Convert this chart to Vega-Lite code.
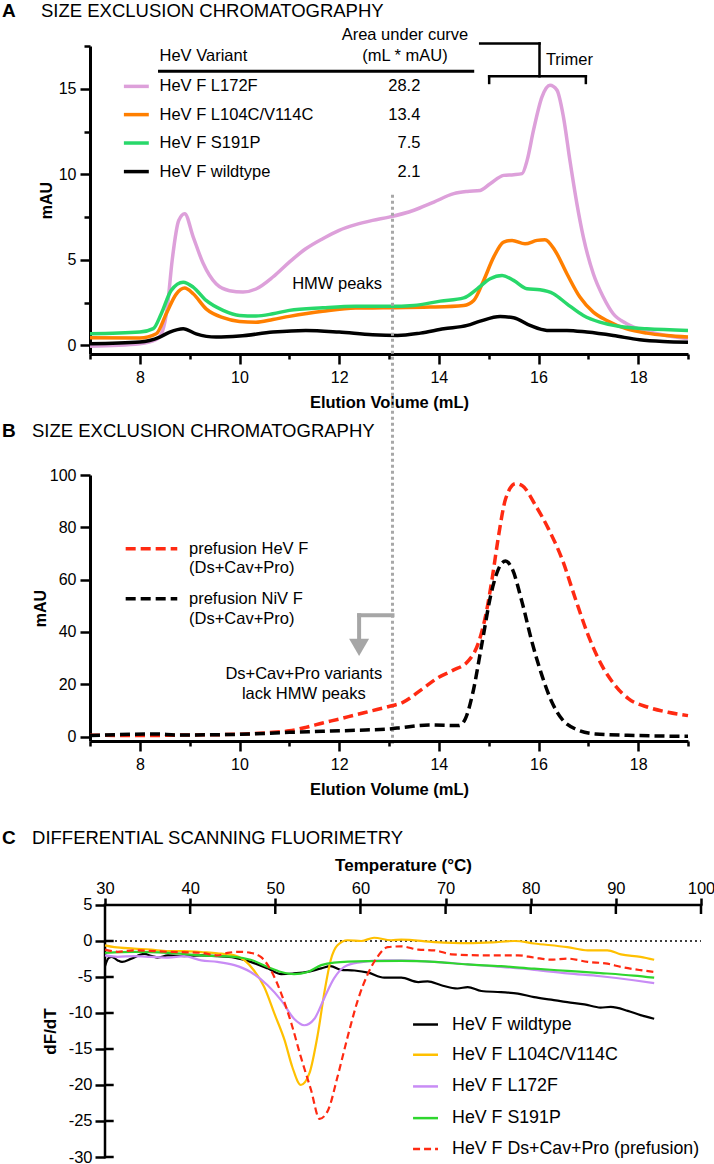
{
"$schema":"https://vega.github.io/schema/vega-lite/v6.json",
"background":"white",
"padding":{"left":1,"top":2,"right":0,"bottom":0},
"bounds":"flush",
"spacing":121,
"resolve":{"scale":{"x":"independent","y":"independent","color":"independent"}},
"config":{
 "view":{"stroke":null},
 "font":"Liberation Sans",
 "axis":{"grid":false,"domainColor":"#000","domainWidth":3,"tickColor":"#000","tickWidth":2.5,"labelColor":"#000","titleColor":"#000","labelFont":"Liberation Sans","titleFont":"Liberation Sans","labelFontSize":16,"titleFontSize":16.5,"titleFontWeight":"bold","labelOverlap":false,"labelFlush":false,"labelBound":false},
 "text":{"font":"Liberation Sans","color":"#000"}
},
"datasets":{
 "aCurves":[
  {"s":"L172F","ml":7,"v":-0.05},{"s":"L172F","ml":8,"v":0.1},{"s":"L172F","ml":8.33,"v":0.35},{"s":"L172F","ml":8.45,"v":0.8},{"s":"L172F","ml":8.55,"v":2.2},{"s":"L172F","ml":8.65,"v":5.0},{"s":"L172F","ml":8.78,"v":7.3},{"s":"L172F","ml":8.9,"v":7.7},{"s":"L172F","ml":9.07,"v":6.35},{"s":"L172F","ml":9.27,"v":4.8},{"s":"L172F","ml":9.53,"v":3.6},{"s":"L172F","ml":9.8,"v":3.2},{"s":"L172F","ml":10.07,"v":3.12},{"s":"L172F","ml":10.33,"v":3.3},{"s":"L172F","ml":10.67,"v":4.0},{"s":"L172F","ml":11,"v":4.87},{"s":"L172F","ml":11.33,"v":5.65},{"s":"L172F","ml":11.67,"v":6.24},{"s":"L172F","ml":12,"v":6.73},{"s":"L172F","ml":12.33,"v":7.06},{"s":"L172F","ml":12.67,"v":7.31},{"s":"L172F","ml":13,"v":7.5},{"s":"L172F","ml":13.5,"v":7.9},{"s":"L172F","ml":13.9,"v":8.38},{"s":"L172F","ml":14.3,"v":8.87},{"s":"L172F","ml":14.57,"v":9.0},{"s":"L172F","ml":14.83,"v":9.06},{"s":"L172F","ml":15.03,"v":9.45},{"s":"L172F","ml":15.3,"v":9.94},{"s":"L172F","ml":15.5,"v":9.98},{"s":"L172F","ml":15.67,"v":10.04},{"s":"L172F","ml":15.77,"v":10.8},{"s":"L172F","ml":15.9,"v":12.58},{"s":"L172F","ml":16.07,"v":14.52},{"s":"L172F","ml":16.23,"v":15.2},{"s":"L172F","ml":16.37,"v":14.92},{"s":"L172F","ml":16.5,"v":13.36},{"s":"L172F","ml":16.63,"v":10.82},{"s":"L172F","ml":16.77,"v":8.29},{"s":"L172F","ml":16.9,"v":6.33},{"s":"L172F","ml":17.1,"v":4.19},{"s":"L172F","ml":17.3,"v":2.83},{"s":"L172F","ml":17.5,"v":1.85},{"s":"L172F","ml":17.77,"v":1.27},{"s":"L172F","ml":18.17,"v":0.84},{"s":"L172F","ml":18.57,"v":0.58},{"s":"L172F","ml":19,"v":0.39},
  {"s":"L104C/V114C","ml":7,"v":0.45},{"s":"L104C/V114C","ml":8,"v":0.43},{"s":"L104C/V114C","ml":8.33,"v":0.68},{"s":"L104C/V114C","ml":8.53,"v":1.85},{"s":"L104C/V114C","ml":8.73,"v":3.0},{"s":"L104C/V114C","ml":8.9,"v":3.35},{"s":"L104C/V114C","ml":9.07,"v":3.02},{"s":"L104C/V114C","ml":9.33,"v":2.14},{"s":"L104C/V114C","ml":9.67,"v":1.62},{"s":"L104C/V114C","ml":10,"v":1.4},{"s":"L104C/V114C","ml":10.33,"v":1.36},{"s":"L104C/V114C","ml":10.67,"v":1.52},{"s":"L104C/V114C","ml":11,"v":1.7},{"s":"L104C/V114C","ml":11.67,"v":2.0},{"s":"L104C/V114C","ml":12.33,"v":2.19},{"s":"L104C/V114C","ml":13,"v":2.2},{"s":"L104C/V114C","ml":13.83,"v":2.24},{"s":"L104C/V114C","ml":14.5,"v":2.34},{"s":"L104C/V114C","ml":14.7,"v":2.63},{"s":"L104C/V114C","ml":14.9,"v":3.8},{"s":"L104C/V114C","ml":15.1,"v":5.16},{"s":"L104C/V114C","ml":15.3,"v":6.04},{"s":"L104C/V114C","ml":15.47,"v":6.14},{"s":"L104C/V114C","ml":15.73,"v":5.94},{"s":"L104C/V114C","ml":15.97,"v":6.14},{"s":"L104C/V114C","ml":16.13,"v":6.18},{"s":"L104C/V114C","ml":16.33,"v":5.55},{"s":"L104C/V114C","ml":16.57,"v":4.19},{"s":"L104C/V114C","ml":16.83,"v":2.83},{"s":"L104C/V114C","ml":17.1,"v":1.95},{"s":"L104C/V114C","ml":17.37,"v":1.46},{"s":"L104C/V114C","ml":17.77,"v":0.97},{"s":"L104C/V114C","ml":18.17,"v":0.72},{"s":"L104C/V114C","ml":18.57,"v":0.58},{"s":"L104C/V114C","ml":19,"v":0.49},
  {"s":"S191P","ml":7,"v":0.68},{"s":"S191P","ml":8,"v":0.78},{"s":"S191P","ml":8.27,"v":0.98},{"s":"S191P","ml":8.43,"v":1.85},{"s":"S191P","ml":8.63,"v":3.22},{"s":"S191P","ml":8.87,"v":3.7},{"s":"S191P","ml":9.07,"v":3.41},{"s":"S191P","ml":9.33,"v":2.63},{"s":"S191P","ml":9.67,"v":2.05},{"s":"S191P","ml":10,"v":1.75},{"s":"S191P","ml":10.33,"v":1.72},{"s":"S191P","ml":10.67,"v":1.85},{"s":"S191P","ml":11,"v":2.05},{"s":"S191P","ml":11.67,"v":2.2},{"s":"S191P","ml":12.33,"v":2.29},{"s":"S191P","ml":13,"v":2.29},{"s":"S191P","ml":13.5,"v":2.34},{"s":"S191P","ml":14.03,"v":2.59},{"s":"S191P","ml":14.5,"v":2.78},{"s":"S191P","ml":14.77,"v":3.31},{"s":"S191P","ml":15.03,"v":3.9},{"s":"S191P","ml":15.27,"v":4.09},{"s":"S191P","ml":15.5,"v":3.8},{"s":"S191P","ml":15.77,"v":3.31},{"s":"S191P","ml":16.03,"v":3.25},{"s":"S191P","ml":16.3,"v":3.02},{"s":"S191P","ml":16.57,"v":2.43},{"s":"S191P","ml":16.9,"v":1.75},{"s":"S191P","ml":17.23,"v":1.36},{"s":"S191P","ml":17.63,"v":1.11},{"s":"S191P","ml":18.17,"v":0.97},{"s":"S191P","ml":19,"v":0.88},
  {"s":"wildtype","ml":7,"v":0.1},{"s":"wildtype","ml":8,"v":0.2},{"s":"wildtype","ml":8.4,"v":0.49},{"s":"wildtype","ml":8.6,"v":0.78},{"s":"wildtype","ml":8.87,"v":0.98},{"s":"wildtype","ml":9.13,"v":0.68},{"s":"wildtype","ml":9.53,"v":0.49},{"s":"wildtype","ml":10,"v":0.55},{"s":"wildtype","ml":10.67,"v":0.78},{"s":"wildtype","ml":11.33,"v":0.88},{"s":"wildtype","ml":12,"v":0.78},{"s":"wildtype","ml":12.67,"v":0.62},{"s":"wildtype","ml":13.17,"v":0.58},{"s":"wildtype","ml":13.63,"v":0.72},{"s":"wildtype","ml":14.1,"v":0.97},{"s":"wildtype","ml":14.57,"v":1.17},{"s":"wildtype","ml":14.83,"v":1.42},{"s":"wildtype","ml":15.23,"v":1.69},{"s":"wildtype","ml":15.5,"v":1.62},{"s":"wildtype","ml":15.83,"v":1.17},{"s":"wildtype","ml":16.17,"v":0.88},{"s":"wildtype","ml":16.57,"v":0.88},{"s":"wildtype","ml":16.97,"v":0.78},{"s":"wildtype","ml":17.5,"v":0.58},{"s":"wildtype","ml":18.03,"v":0.33},{"s":"wildtype","ml":18.5,"v":0.23},{"s":"wildtype","ml":19,"v":0.19}
 ],
 "bCurves":[
  {"s":"HeV","ml":7,"v":0.5},{"s":"HeV","ml":8,"v":0.4},{"s":"HeV","ml":9,"v":0.6},{"s":"HeV","ml":10,"v":0.9},{"s":"HeV","ml":10.67,"v":1.6},{"s":"HeV","ml":11,"v":2.2},{"s":"HeV","ml":11.33,"v":3.5},{"s":"HeV","ml":11.67,"v":5.2},{"s":"HeV","ml":12,"v":6.7},{"s":"HeV","ml":12.33,"v":8.3},{"s":"HeV","ml":12.67,"v":9.9},{"s":"HeV","ml":13,"v":11.5},{"s":"HeV","ml":13.27,"v":13.0},{"s":"HeV","ml":13.67,"v":18.2},{"s":"HeV","ml":14,"v":22.7},{"s":"HeV","ml":14.27,"v":25.2},{"s":"HeV","ml":14.6,"v":29.1},{"s":"HeV","ml":14.8,"v":36.1},{"s":"HeV","ml":14.94,"v":46.3},{"s":"HeV","ml":15.07,"v":60.4},{"s":"HeV","ml":15.2,"v":76.9},{"s":"HeV","ml":15.34,"v":90.9},{"s":"HeV","ml":15.54,"v":96.7},{"s":"HeV","ml":15.67,"v":96.0},{"s":"HeV","ml":15.94,"v":88.4},{"s":"HeV","ml":16.2,"v":79.4},{"s":"HeV","ml":16.47,"v":68.0},{"s":"HeV","ml":16.74,"v":52.7},{"s":"HeV","ml":17,"v":38.6},{"s":"HeV","ml":17.27,"v":27.2},{"s":"HeV","ml":17.54,"v":19.5},{"s":"HeV","ml":17.81,"v":14.4},{"s":"HeV","ml":18.2,"v":11.2},{"s":"HeV","ml":18.6,"v":9.3},{"s":"HeV","ml":19,"v":8.0},
  {"s":"NiV","ml":7,"v":0.4},{"s":"NiV","ml":8.33,"v":1.0},{"s":"NiV","ml":8.73,"v":0.6},{"s":"NiV","ml":10,"v":0.85},{"s":"NiV","ml":11,"v":1.6},{"s":"NiV","ml":11.67,"v":2.0},{"s":"NiV","ml":12.33,"v":2.4},{"s":"NiV","ml":13,"v":2.9},{"s":"NiV","ml":13.27,"v":3.5},{"s":"NiV","ml":13.8,"v":4.4},{"s":"NiV","ml":14.4,"v":4.2},{"s":"NiV","ml":14.53,"v":6.7},{"s":"NiV","ml":14.67,"v":15.7},{"s":"NiV","ml":14.87,"v":36.1},{"s":"NiV","ml":15.04,"v":53.9},{"s":"NiV","ml":15.2,"v":64.2},{"s":"NiV","ml":15.34,"v":67.1},{"s":"NiV","ml":15.47,"v":64.2},{"s":"NiV","ml":15.67,"v":51.4},{"s":"NiV","ml":15.87,"v":36.1},{"s":"NiV","ml":16.07,"v":23.3},{"s":"NiV","ml":16.27,"v":13.1},{"s":"NiV","ml":16.47,"v":6.7},{"s":"NiV","ml":16.74,"v":2.9},{"s":"NiV","ml":17.14,"v":1.0},{"s":"NiV","ml":17.94,"v":0.4},{"s":"NiV","ml":19,"v":0.1}
 ],
 "cCurves":[
  {"s":"wildtype","T":30,"v":-3.5},{"s":"wildtype","T":30.4,"v":-2.4},{"s":"wildtype","T":30.8,"v":-2.2},{"s":"wildtype","T":31.5,"v":-2.7},{"s":"wildtype","T":32,"v":-2.9},{"s":"wildtype","T":33.1,"v":-2.45},{"s":"wildtype","T":34.6,"v":-1.8},{"s":"wildtype","T":35.5,"v":-2.1},{"s":"wildtype","T":36.2,"v":-2.3},{"s":"wildtype","T":37.4,"v":-2.0},{"s":"wildtype","T":39.3,"v":-2.1},{"s":"wildtype","T":41.3,"v":-2.0},{"s":"wildtype","T":43.2,"v":-2.1},{"s":"wildtype","T":45.2,"v":-2.3},{"s":"wildtype","T":47.1,"v":-2.9},{"s":"wildtype","T":49.1,"v":-3.8},{"s":"wildtype","T":50.7,"v":-4.6},{"s":"wildtype","T":52.2,"v":-4.5},{"s":"wildtype","T":53.8,"v":-4.3},{"s":"wildtype","T":55.4,"v":-3.8},{"s":"wildtype","T":56.5,"v":-3.5},{"s":"wildtype","T":57.7,"v":-4.0},{"s":"wildtype","T":59.3,"v":-4.1},{"s":"wildtype","T":60.9,"v":-4.4},{"s":"wildtype","T":62.8,"v":-5.1},{"s":"wildtype","T":64.8,"v":-5.1},{"s":"wildtype","T":66.8,"v":-5.7},{"s":"wildtype","T":67.9,"v":-5.6},{"s":"wildtype","T":69.5,"v":-6.15},{"s":"wildtype","T":71.4,"v":-6.6},{"s":"wildtype","T":72.6,"v":-6.4},{"s":"wildtype","T":74.2,"v":-6.95},{"s":"wildtype","T":76.5,"v":-7.1},{"s":"wildtype","T":78.5,"v":-7.3},{"s":"wildtype","T":80.4,"v":-7.8},{"s":"wildtype","T":82.4,"v":-8.15},{"s":"wildtype","T":84.3,"v":-8.5},{"s":"wildtype","T":86.3,"v":-8.8},{"s":"wildtype","T":88.2,"v":-9.25},{"s":"wildtype","T":89.4,"v":-9.15},{"s":"wildtype","T":91.4,"v":-9.7},{"s":"wildtype","T":92.9,"v":-10.3},{"s":"wildtype","T":94.5,"v":-10.8},
  {"s":"L104C/V114C","T":30,"v":-0.6},{"s":"L104C/V114C","T":31.1,"v":-0.85},{"s":"L104C/V114C","T":33.4,"v":-1.05},{"s":"L104C/V114C","T":35.4,"v":-1.2},{"s":"L104C/V114C","T":37.4,"v":-1.4},{"s":"L104C/V114C","T":39.3,"v":-1.4},{"s":"L104C/V114C","T":41.3,"v":-1.55},{"s":"L104C/V114C","T":43.2,"v":-1.7},{"s":"L104C/V114C","T":45.2,"v":-2.0},{"s":"L104C/V114C","T":46.4,"v":-2.7},{"s":"L104C/V114C","T":47.5,"v":-4.1},{"s":"L104C/V114C","T":48.7,"v":-6.4},{"s":"L104C/V114C","T":49.9,"v":-10.1},{"s":"L104C/V114C","T":51.1,"v":-13.8},{"s":"L104C/V114C","T":52,"v":-17.5},{"s":"L104C/V114C","T":53,"v":-20.0},{"s":"L104C/V114C","T":54,"v":-18.4},{"s":"L104C/V114C","T":55,"v":-12.9},{"s":"L104C/V114C","T":55.8,"v":-6.9},{"s":"L104C/V114C","T":56.5,"v":-2.7},{"s":"L104C/V114C","T":57.3,"v":-0.6},{"s":"L104C/V114C","T":58.5,"v":0.1},{"s":"L104C/V114C","T":60.1,"v":0.0},{"s":"L104C/V114C","T":61.6,"v":0.45},{"s":"L104C/V114C","T":63.6,"v":0.1},{"s":"L104C/V114C","T":64.8,"v":0.2},{"s":"L104C/V114C","T":68.7,"v":-0.15},{"s":"L104C/V114C","T":72.6,"v":-0.3},{"s":"L104C/V114C","T":75.5,"v":-0.2},{"s":"L104C/V114C","T":78.1,"v":0.0},{"s":"L104C/V114C","T":80.4,"v":-0.35},{"s":"L104C/V114C","T":84.3,"v":-0.85},{"s":"L104C/V114C","T":86.7,"v":-1.3},{"s":"L104C/V114C","T":89,"v":-1.3},{"s":"L104C/V114C","T":90.6,"v":-1.85},{"s":"L104C/V114C","T":92.9,"v":-2.2},{"s":"L104C/V114C","T":94.5,"v":-2.6},
  {"s":"L172F","T":30,"v":-2.0},{"s":"L172F","T":31.5,"v":-2.2},{"s":"L172F","T":33.4,"v":-2.1},{"s":"L172F","T":35.4,"v":-2.2},{"s":"L172F","T":37.4,"v":-2.3},{"s":"L172F","T":39.3,"v":-2.1},{"s":"L172F","T":41.3,"v":-2.7},{"s":"L172F","T":43.2,"v":-2.9},{"s":"L172F","T":45.2,"v":-3.35},{"s":"L172F","T":47.1,"v":-4.3},{"s":"L172F","T":49.1,"v":-6.15},{"s":"L172F","T":50.7,"v":-8.25},{"s":"L172F","T":52.2,"v":-10.8},{"s":"L172F","T":53.4,"v":-11.7},{"s":"L172F","T":54.6,"v":-10.8},{"s":"L172F","T":55.8,"v":-7.8},{"s":"L172F","T":56.9,"v":-5.2},{"s":"L172F","T":58.1,"v":-3.6},{"s":"L172F","T":59.7,"v":-3.0},{"s":"L172F","T":62.8,"v":-2.7},{"s":"L172F","T":64.8,"v":-2.7},{"s":"L172F","T":68.7,"v":-2.9},{"s":"L172F","T":72.6,"v":-3.25},{"s":"L172F","T":76.5,"v":-3.6},{"s":"L172F","T":80.4,"v":-4.0},{"s":"L172F","T":84.3,"v":-4.5},{"s":"L172F","T":88.2,"v":-4.9},{"s":"L172F","T":92.1,"v":-5.45},{"s":"L172F","T":94.5,"v":-5.85},
  {"s":"S191P","T":30,"v":-1.65},{"s":"S191P","T":33.4,"v":-1.5},{"s":"S191P","T":37.4,"v":-1.65},{"s":"S191P","T":41.3,"v":-2.0},{"s":"S191P","T":45.2,"v":-2.2},{"s":"S191P","T":47.1,"v":-2.6},{"s":"S191P","T":49.1,"v":-3.6},{"s":"S191P","T":50.7,"v":-4.3},{"s":"S191P","T":52.2,"v":-4.6},{"s":"S191P","T":53.8,"v":-4.3},{"s":"S191P","T":55.4,"v":-3.35},{"s":"S191P","T":56.9,"v":-3.0},{"s":"S191P","T":60.9,"v":-2.8},{"s":"S191P","T":64.8,"v":-2.75},{"s":"S191P","T":68.7,"v":-2.9},{"s":"S191P","T":72.6,"v":-3.25},{"s":"S191P","T":76.5,"v":-3.5},{"s":"S191P","T":80.4,"v":-3.85},{"s":"S191P","T":84.3,"v":-4.15},{"s":"S191P","T":88.2,"v":-4.45},{"s":"S191P","T":92.1,"v":-4.8},{"s":"S191P","T":94.5,"v":-5.1},
  {"s":"Ds+Cav+Pro","T":30,"v":-1.2},{"s":"Ds+Cav+Pro","T":31.5,"v":-1.5},{"s":"Ds+Cav+Pro","T":33.4,"v":-1.3},{"s":"Ds+Cav+Pro","T":37.4,"v":-1.5},{"s":"Ds+Cav+Pro","T":41.3,"v":-1.65},{"s":"Ds+Cav+Pro","T":43.2,"v":-2.0},{"s":"Ds+Cav+Pro","T":44.4,"v":-1.65},{"s":"Ds+Cav+Pro","T":45.9,"v":-1.5},{"s":"Ds+Cav+Pro","T":47.1,"v":-1.65},{"s":"Ds+Cav+Pro","T":48.3,"v":-2.2},{"s":"Ds+Cav+Pro","T":49.5,"v":-4.1},{"s":"Ds+Cav+Pro","T":50.7,"v":-7.3},{"s":"Ds+Cav+Pro","T":51.9,"v":-11.5},{"s":"Ds+Cav+Pro","T":53,"v":-16.1},{"s":"Ds+Cav+Pro","T":54.2,"v":-20.7},{"s":"Ds+Cav+Pro","T":55.2,"v":-24.7},{"s":"Ds+Cav+Pro","T":56.2,"v":-23.5},{"s":"Ds+Cav+Pro","T":57.3,"v":-18.9},{"s":"Ds+Cav+Pro","T":58.5,"v":-13.3},{"s":"Ds+Cav+Pro","T":59.7,"v":-8.2},{"s":"Ds+Cav+Pro","T":60.9,"v":-4.5},{"s":"Ds+Cav+Pro","T":62,"v":-2.2},{"s":"Ds+Cav+Pro","T":63.2,"v":-0.85},{"s":"Ds+Cav+Pro","T":64.8,"v":-0.75},{"s":"Ds+Cav+Pro","T":66.8,"v":-1.2},{"s":"Ds+Cav+Pro","T":68.7,"v":-1.3},{"s":"Ds+Cav+Pro","T":70.7,"v":-1.85},{"s":"Ds+Cav+Pro","T":74.6,"v":-2.0},{"s":"Ds+Cav+Pro","T":78.5,"v":-2.0},{"s":"Ds+Cav+Pro","T":80.4,"v":-2.3},{"s":"Ds+Cav+Pro","T":82.4,"v":-2.6},{"s":"Ds+Cav+Pro","T":84.3,"v":-2.45},{"s":"Ds+Cav+Pro","T":86.7,"v":-2.9},{"s":"Ds+Cav+Pro","T":89,"v":-3.15},{"s":"Ds+Cav+Pro","T":90.6,"v":-3.6},{"s":"Ds+Cav+Pro","T":92.9,"v":-4.05},{"s":"Ds+Cav+Pro","T":94.5,"v":-4.3}
 ]
},
"vconcat":[
 {
  "width":598,"height":308,
  "layer":[
   {"data":{"name":"aCurves"},"mark":{"type":"line","strokeWidth":3.5,"interpolate":"monotone"},
    "encoding":{
     "x":{"field":"ml","type":"quantitative","scale":{"domain":[7,19],"nice":false,"zero":false},
      "axis":{"values":[7,8,9,10,11,12,13,14,15,16,17,18,19],"labelExpr":"datum.value % 2 === 0 ? datum.label : ''","tickSize":{"condition":{"test":"datum.value % 2 === 0","value":10},"value":5},"labelPadding":5,"title":"Elution Volume (mL)","titlePadding":9}},
     "y":{"field":"v","type":"quantitative","scale":{"domain":[-0.5,17.5],"nice":false,"zero":false},
      "axis":{"values":[0,2.5,5,7.5,10,12.5,15,17.5],"labelExpr":"datum.value % 5 === 0 ? datum.label : ''","tickSize":{"condition":{"test":"datum.value % 5 === 0","value":10},"value":6},"labelPadding":4,"title":"mAU","titleFontSize":16,"titlePadding":4}},
     "color":{"field":"s","type":"nominal","scale":{"domain":["L172F","L104C/V114C","S191P","wildtype"],"range":["#DDA0DA","#FF7F00","#28D86A","#000000"]},"legend":null}
    }},
   {"data":{"values":[{"s":"L172F","x":7.68,"x2":8.18,"y":15.14},{"s":"L104C/V114C","x":7.68,"x2":8.18,"y":13.49},{"s":"S191P","x":7.68,"x2":8.18,"y":11.83},{"s":"wildtype","x":7.68,"x2":8.18,"y":10.16}]},
    "mark":{"type":"rule","strokeWidth":3.5},
    "encoding":{"x":{"field":"x","type":"quantitative"},"x2":{"field":"x2"},"y":{"field":"y","type":"quantitative"},"color":{"field":"s","type":"nominal","legend":null}}},
   {"data":{"values":[{"x":8.365,"x2":14.71,"y":16.02,"y2":16.02}]},
    "mark":{"type":"rule","strokeWidth":3,"color":"#000"},
    "encoding":{"x":{"field":"x","type":"quantitative"},"x2":{"field":"x2"},"y":{"field":"y","type":"quantitative"},"y2":{"field":"y2"}}},
   {"data":{"values":[{"x":14.83,"x2":16.02,"y":17.65,"y2":17.65},{"x":16.02,"x2":16.02,"y":17.65,"y2":15.73},{"x":15.01,"x2":16.95,"y":15.73,"y2":15.73},{"x":15.01,"x2":15.01,"y":15.73,"y2":15.34},{"x":16.95,"x2":16.95,"y":15.73,"y2":15.34}]},
    "mark":{"type":"rule","strokeWidth":2.5,"color":"#000","strokeCap":"square","clip":false},
    "encoding":{"x":{"field":"x","type":"quantitative"},"x2":{"field":"x2"},"y":{"field":"y","type":"quantitative"},"y2":{"field":"y2"}}},
   {"data":{"values":[{"t":"HeV Variant","x":8.395,"y":16.93},{"t":"HeV F L172F","x":8.395,"y":15.14},{"t":"HeV F L104C/V114C","x":8.395,"y":13.49},{"t":"HeV F S191P","x":8.395,"y":11.83},{"t":"HeV F wildtype","x":8.395,"y":10.16}]},
    "mark":{"type":"text","align":"left","baseline":"middle","fontSize":16.5},
    "encoding":{"x":{"field":"x","type":"quantitative"},"y":{"field":"y","type":"quantitative"},"text":{"field":"t"}}},
   {"data":{"values":[{"t":"28.2","x":13.63,"y":15.14},{"t":"13.4","x":13.63,"y":13.49},{"t":"7.5","x":13.63,"y":11.83},{"t":"2.1","x":13.63,"y":10.16},{"t":"HMW peaks","x":12.86,"y":3.57}]},
    "mark":{"type":"text","align":"right","baseline":"middle","fontSize":16.5},
    "encoding":{"x":{"field":"x","type":"quantitative"},"y":{"field":"y","type":"quantitative"},"text":{"field":"t"}}},
   {"data":{"values":[{"t":"Area under curve","x":13.32,"y":18.16},{"t":"(mL * mAU)","x":13.32,"y":16.9},{"t":"Trimer","x":16.62,"y":16.7}]},
    "mark":{"type":"text","align":"center","baseline":"middle","fontSize":16.5,"clip":false},
    "encoding":{"x":{"field":"x","type":"quantitative"},"y":{"field":"y","type":"quantitative"},"text":{"field":"t"}}},
   {"data":{"values":[{"t":"A","x":5.234,"y":19.19}]},
    "mark":{"type":"text","align":"left","baseline":"alphabetic","fontSize":19,"fontWeight":"bold"},
    "encoding":{"x":{"field":"x","type":"quantitative"},"y":{"field":"y","type":"quantitative"},"text":{"field":"t"}}},
   {"data":{"values":[{"t":"SIZE EXCLUSION CHROMATOGRAPHY","x":6.017,"y":19.19}]},
    "mark":{"type":"text","align":"left","baseline":"alphabetic","fontSize":18.5},
    "encoding":{"x":{"field":"x","type":"quantitative"},"y":{"field":"y","type":"quantitative"},"text":{"field":"t"}}},
   {"data":{"values":[{"x":13.07,"y":8.81,"y2":-23.3}]},
    "mark":{"type":"rule","color":"#A8A8A8","strokeWidth":3,"strokeDash":[3,3],"clip":false},
    "encoding":{"x":{"field":"x","type":"quantitative"},"y":{"field":"y","type":"quantitative"},"y2":{"field":"y2"}}}
  ]
 },
 {
  "width":598,"height":266,
  "layer":[
   {"data":{"name":"bCurves"},"mark":{"type":"line","strokeWidth":3.5,"strokeDash":[10,5],"interpolate":"monotone"},
    "encoding":{
     "x":{"field":"ml","type":"quantitative","scale":{"domain":[7,19],"nice":false,"zero":false},
      "axis":{"values":[7,8,9,10,11,12,13,14,15,16,17,18,19],"labelExpr":"datum.value % 2 === 0 ? datum.label : ''","tickSize":{"condition":{"test":"datum.value % 2 === 0","value":10},"value":5},"labelPadding":5,"title":"Elution Volume (mL)","titlePadding":9}},
     "y":{"field":"v","type":"quantitative","scale":{"domain":[-1.7,100],"nice":false,"zero":false},
      "axis":{"values":[0,10,20,30,40,50,60,70,80,90,100],"labelExpr":"datum.value % 20 === 0 ? datum.label : ''","tickSize":{"condition":{"test":"datum.value % 20 === 0","value":10},"value":6},"labelPadding":4,"title":"mAU","titleFontSize":16,"titlePadding":1}},
     "color":{"field":"s","type":"nominal","scale":{"domain":["HeV","NiV"],"range":["#FF2A12","#000000"]},"legend":null}
    }},
   {"data":{"values":[{"s":"HeV","x":7.716,"x2":8.751,"y":71.8},{"s":"NiV","x":7.716,"x2":8.751,"y":52.7}]},
    "mark":{"type":"rule","strokeWidth":3.5,"strokeDash":[10,5]},
    "encoding":{"x":{"field":"x","type":"quantitative"},"x2":{"field":"x2"},"y":{"field":"y","type":"quantitative"},"color":{"field":"s","type":"nominal","legend":null}}},
   {"data":{"values":[{"t":"prefusion HeV F","x":8.987,"y":71.83},{"t":"(Ds+Cav+Pro)","x":8.987,"y":64.45},{"t":"prefusion NiV F","x":8.987,"y":52.7},{"t":"(Ds+Cav+Pro)","x":8.987,"y":44.8}]},
    "mark":{"type":"text","align":"left","baseline":"middle","fontSize":16.5},
    "encoding":{"x":{"field":"x","type":"quantitative"},"y":{"field":"y","type":"quantitative"},"text":{"field":"t"}}},
   {"data":{"values":[{"t":"Ds+Cav+Pro variants","x":11.29,"y":24.05},{"t":"lack HMW peaks","x":11.29,"y":16.4}]},
    "mark":{"type":"text","align":"center","baseline":"middle","fontSize":16.5},
    "encoding":{"x":{"field":"x","type":"quantitative"},"y":{"field":"y","type":"quantitative"},"text":{"field":"t"}}},
   {"data":{"values":[{"x":12.4,"x2":13.07,"y":46.37,"y2":46.37},{"x":12.4,"x2":12.4,"y":46.37,"y2":37.5}]},
    "mark":{"type":"rule","strokeWidth":4,"color":"#A6A6A6","strokeCap":"square"},
    "encoding":{"x":{"field":"x","type":"quantitative"},"x2":{"field":"x2"},"y":{"field":"y","type":"quantitative"},"y2":{"field":"y2"}}},
   {"data":{"values":[{"x":12.4,"y":34.1}]},
    "mark":{"type":"point","shape":"triangle-down","size":400,"filled":true,"color":"#A6A6A6","opacity":1,"strokeWidth":0},
    "encoding":{"x":{"field":"x","type":"quantitative"},"y":{"field":"y","type":"quantitative"}}},
   {"data":{"values":[{"t":"B","x":5.234,"y":114.5}]},
    "mark":{"type":"text","align":"left","baseline":"alphabetic","fontSize":19,"fontWeight":"bold"},
    "encoding":{"x":{"field":"x","type":"quantitative"},"y":{"field":"y","type":"quantitative"},"text":{"field":"t"}}},
   {"data":{"values":[{"t":"SIZE EXCLUSION CHROMATOGRAPHY","x":5.836,"y":114.5}]},
    "mark":{"type":"text","align":"left","baseline":"alphabetic","fontSize":18.5},
    "encoding":{"x":{"field":"x","type":"quantitative"},"y":{"field":"y","type":"quantitative"},"text":{"field":"t"}}}
  ]
 },
 {
  "width":611,"height":295,
  "layer":[
   {"data":{"values":[{"x":30,"x2":100,"y":0,"y2":0}]},
    "mark":{"type":"rule","strokeWidth":1.6,"strokeDash":[2,3],"color":"#000"},
    "encoding":{
     "x":{"field":"x","type":"quantitative","scale":{"domain":[28.238,100],"nice":false,"zero":false},
      "axis":{"orient":"top","offset":-43,"domain":false,"values":[30,40,50,60,70,80,90,100],"tickSize":7,"labelPadding":2,"labelFontSize":16.5,"title":"Temperature (°C)","titleFontSize":17,"titlePadding":6,"titleX":313}},
     "x2":{"field":"x2"},
     "y":{"field":"y","type":"quantitative","scale":{"domain":[-30,10.97],"nice":false,"zero":false},
      "axis":{"offset":-15,"domain":false,"values":[5,0,-5,-10,-15,-20,-25,-30],"labelExpr":"'' + datum.value","tickSize":10,"labelPadding":3,"labelFontSize":16.5,"title":"dF/dT","titleFontSize":17,"titlePadding":9,"titleY":169}},
     "y2":{"field":"y2"}
    }},
   {"data":{"values":[{"x":30,"x2":100,"y":5,"y2":5},{"x":30,"x2":30,"y":-30,"y2":5}]},
    "mark":{"type":"rule","strokeWidth":2.5,"color":"#000","strokeCap":"square"},
    "encoding":{"x":{"field":"x","type":"quantitative"},"x2":{"field":"x2"},"y":{"field":"y","type":"quantitative"},"y2":{"field":"y2"}}},
   {"data":{"values":[{"x":40},{"x":50},{"x":60},{"x":70},{"x":80},{"x":90},{"x":100}]},
    "mark":{"type":"rule","strokeWidth":2.5,"color":"#000"},
    "encoding":{"x":{"field":"x","type":"quantitative"},"y":{"datum":5},"y2":{"datum":3.75}}},
   {"data":{"values":[{"y":0},{"y":-5},{"y":-10},{"y":-15},{"y":-20},{"y":-25},{"y":-30}]},
    "mark":{"type":"rule","strokeWidth":2.5,"color":"#000"},
    "encoding":{"y":{"field":"y","type":"quantitative"},"x":{"datum":30},"x2":{"datum":31.02}}},
   {"data":{"name":"cCurves"},"transform":[{"filter":"datum.s !== 'Ds+Cav+Pro'"}],
    "mark":{"type":"line","strokeWidth":2.2,"interpolate":"monotone"},
    "encoding":{"x":{"field":"T","type":"quantitative"},"y":{"field":"v","type":"quantitative"},
     "color":{"field":"s","type":"nominal","scale":{"domain":["wildtype","L104C/V114C","L172F","S191P","Ds+Cav+Pro"],"range":["#000000","#FFC000","#C88CF5","#2ED62E","#FF2A12"]},"legend":null}}},
   {"data":{"name":"cCurves"},"transform":[{"filter":"datum.s === 'Ds+Cav+Pro'"}],
    "mark":{"type":"line","strokeWidth":2.2,"strokeDash":[7,4],"interpolate":"monotone"},
    "encoding":{"x":{"field":"T","type":"quantitative"},"y":{"field":"v","type":"quantitative"},"color":{"field":"s","type":"nominal","legend":null}}},
   {"data":{"values":[{"s":"wildtype","x":66.18,"x2":69.11,"y":-11.6},{"s":"L104C/V114C","x":66.18,"x2":69.11,"y":-15.8},{"s":"L172F","x":66.18,"x2":69.11,"y":-20.2},{"s":"S191P","x":66.18,"x2":69.11,"y":-24.6}]},
    "mark":{"type":"rule","strokeWidth":2.5},
    "encoding":{"x":{"field":"x","type":"quantitative"},"x2":{"field":"x2"},"y":{"field":"y","type":"quantitative"},"color":{"field":"s","type":"nominal","legend":null}}},
   {"data":{"values":[{"s":"Ds+Cav+Pro","x":66.18,"x2":69.11,"y":-28.9}]},
    "mark":{"type":"rule","strokeWidth":2.5,"strokeDash":[7,4]},
    "encoding":{"x":{"field":"x","type":"quantitative"},"x2":{"field":"x2"},"y":{"field":"y","type":"quantitative"},"color":{"field":"s","type":"nominal","legend":null}}},
   {"data":{"values":[{"t":"HeV F wildtype","x":70.76,"y":-11.6},{"t":"HeV F L104C/V114C","x":70.76,"y":-15.8},{"t":"HeV F L172F","x":70.76,"y":-20.2},{"t":"HeV F S191P","x":70.76,"y":-24.6},{"t":"HeV F Ds+Cav+Pro (prefusion)","x":70.76,"y":-28.9}]},
    "mark":{"type":"text","align":"left","baseline":"middle","fontSize":17.8},
    "encoding":{"x":{"field":"x","type":"quantitative"},"y":{"field":"y","type":"quantitative"},"text":{"field":"t"}}},
   {"data":{"values":[{"t":"C","x":17.904,"y":13.43}]},
    "mark":{"type":"text","align":"left","baseline":"alphabetic","fontSize":19,"fontWeight":"bold"},
    "encoding":{"x":{"field":"x","type":"quantitative"},"y":{"field":"y","type":"quantitative"},"text":{"field":"t"}}},
   {"data":{"values":[{"t":"DIFFERENTIAL SCANNING FLUORIMETRY","x":21.43,"y":13.43}]},
    "mark":{"type":"text","align":"left","baseline":"alphabetic","fontSize":18.5},
    "encoding":{"x":{"field":"x","type":"quantitative"},"y":{"field":"y","type":"quantitative"},"text":{"field":"t"}}}
  ]
 }
]
}
